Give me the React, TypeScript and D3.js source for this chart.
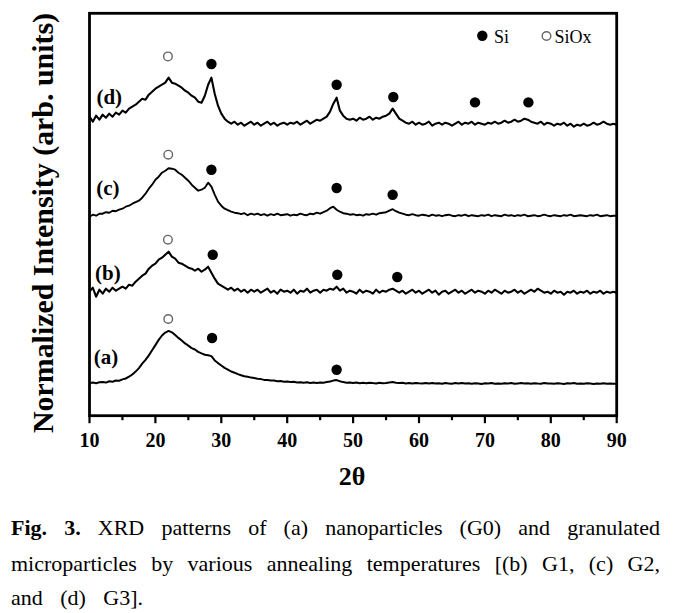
import React from "react";
import * as d3 from "d3";

// 2θ grid start and step for the intensity arrays (degrees)
const X_START = 10;
const X_STEP = 0.5;

// Normalized intensities (arb. units, stacked), 10°..90° every 0.5°
const curveA = [
  32.5, 33.2, 32.4, 33.5, 33.8, 33.1, 34.4, 34.0, 35.2, 35.0,
  36.3, 37.2, 39.0, 41.2, 44.1, 47.6, 52.0, 55.8, 60.3, 65.4,
  70.6, 75.8, 80.2, 83.1, 84.8, 83.4, 80.6, 77.8, 75.2, 72.3,
  70.1, 67.6, 66.2, 63.8, 62.3, 61.0, 60.4, 59.6, 55.3, 52.6,
  50.2, 47.8, 46.1, 44.2, 43.0, 41.6, 40.5, 39.4, 39.0, 38.1,
  37.6, 36.9, 36.6, 35.8, 35.6, 35.1, 35.2, 34.4, 34.6, 34.0,
  34.1, 33.6, 33.9, 33.2, 33.5, 32.9, 33.4, 32.8, 33.2, 32.7,
  33.1, 33.0, 33.6, 34.2, 35.1, 35.6, 34.4, 33.6, 33.0, 33.3,
  32.6, 33.1, 32.5, 32.9, 32.4, 33.0, 32.6, 32.3, 32.9, 32.5,
  32.8, 33.3, 33.6, 33.0, 32.6, 32.9, 32.3, 32.7, 32.2, 32.8,
  32.4, 32.1, 32.7, 32.3, 32.8, 32.2, 32.5, 31.9, 32.6, 32.3,
  32.0, 32.6, 32.2, 32.7, 32.1, 32.4, 32.0, 32.5, 32.2, 31.8,
  32.4, 32.1, 32.6, 32.0, 32.3, 31.9, 32.5, 32.2, 32.7, 32.0,
  32.3, 32.6, 32.1, 32.4, 31.9, 32.5, 32.2, 32.0, 32.6, 32.1,
  32.3, 32.0, 32.5, 32.1, 31.8, 32.4, 32.2, 32.6, 31.9, 32.3,
  32.0, 32.4, 32.1, 31.8, 32.3, 32.0, 32.5, 31.9, 32.2, 32.0,
  31.9,
];

const curveB = [
  124, 128, 119, 126, 122, 127, 124, 128, 125, 127,
  129, 127, 131, 130, 134, 137, 140, 142, 147, 150,
  152, 156, 158, 161, 164, 159, 157, 153, 152, 150,
  148, 147, 145, 147, 144, 146, 149, 143, 137, 132,
  130, 128, 126, 128, 125, 127, 124, 126, 123, 126,
  124, 126, 123, 125, 127, 123, 125, 122, 126, 124,
  125, 123, 126, 122, 125, 124, 127, 123, 125, 126,
  123, 126, 125, 127, 126, 129, 125, 127, 123, 125,
  124, 122, 126, 123, 125, 124, 122, 126, 123, 125,
  124, 126, 127, 125, 123, 125, 122, 124, 126, 123,
  125, 122, 124, 126, 123, 125, 121, 124, 125, 122,
  124, 126, 123, 125, 122, 124, 126, 123, 125, 124,
  122, 125, 123, 126, 124, 122, 125, 123, 124, 126,
  123, 125, 122, 124, 126, 124, 127, 125, 123, 124,
  122, 125, 123, 124, 121, 124, 123, 125, 122, 124,
  123, 125, 122, 124, 123, 125, 122, 124, 123, 124,
  123,
];

const curveC = [
  199, 201, 200, 202, 202, 203.5, 203, 205, 204.5, 206,
  207, 209, 210, 212, 213.5, 215, 218, 222, 227, 231,
  236, 239, 243, 245, 247.5, 247, 246, 243, 241, 238,
  235, 231, 228, 225, 226, 228, 233, 229, 221, 214,
  210, 207, 205.5, 204, 203, 202.5, 201.5, 202.5, 200.5, 202,
  201, 202, 200.5, 201.5, 200, 201.5, 200.5, 202, 200.5, 201,
  201.5, 200, 201, 200.5, 202, 201, 200.5, 202, 201.5, 203,
  202, 203.5, 205, 207.5, 209, 206, 204, 202.5, 202, 201,
  201.5, 200.5, 201, 200, 201.5, 201, 202, 201, 202.5, 203,
  203.5, 205, 206.5, 204.5, 203, 202, 201, 200.5, 201.5, 200.5,
  200, 201, 200.5, 199.5, 201, 200, 200.5, 199.5, 200.5, 201,
  200, 199.5, 200.5, 200, 201, 199.5, 200.5, 200, 199.5, 200.5,
  200, 201, 199.5, 200.5, 200, 199.5, 201, 200, 200.5, 199.5,
  200.5, 200, 201, 199.5, 200, 200.5, 199.5, 200, 201, 200,
  199.5, 200.5, 200, 199.5, 200.5, 200, 201, 199.5, 200, 200.5,
  200, 199.5, 200.5, 200, 201, 199.5, 200, 200.5, 199.5, 200,
  200,
];

const curveD = [
  299, 294, 300, 296, 301, 298, 302, 299, 303, 301,
  305, 303, 307, 309, 311, 314, 317, 316, 321, 324,
  327, 329, 331, 333, 338, 333, 332, 330, 328, 325,
  323, 320, 318, 314, 313, 320, 331, 338, 322, 310,
  302, 297, 294, 292, 294, 291, 293, 290, 292, 294,
  291, 293, 290, 292, 294, 291, 293, 290, 292, 293,
  291, 293, 292, 294, 291, 293, 295, 292, 294, 296,
  295, 297, 299, 304, 312, 318, 305, 300, 297, 296,
  297, 295, 298, 296, 297, 299, 296, 298, 297, 299,
  300, 302, 307, 302, 297, 295, 293, 292, 294, 291,
  293, 291, 292, 294, 290, 292, 293, 291, 293, 292,
  290, 292, 294, 291, 293, 292, 294, 291, 293, 292,
  291, 293, 292, 294, 292, 293, 295, 293, 294, 296,
  294, 295, 297, 296, 294, 293, 292, 294, 291, 293,
  292, 290, 292, 291, 293, 290, 292, 289, 291, 290,
  292, 290, 291, 293, 291, 292, 294, 292, 291, 292,
  291,
];

const seriesLabels = ["(a)", "(b)", "(c)", "(d)"];
const seriesData = [curveA, curveB, curveC, curveD];

// Peak markers [2θ, intensity]
const siPeaks: [number, number][] = [
  [28.6, 77.7], [47.5, 46],
  [28.7, 161], [47.6, 141], [56.7, 138.7],
  [28.5, 246], [47.5, 227.7], [56.0, 221],
  [28.5, 351.7], [47.5, 331], [56.1, 318.7], [68.5, 313.3], [76.6, 313.3],
];
const siOxPeaks: [number, number][] = [
  [21.95, 96.7], [21.9, 176], [21.95, 261], [21.9, 359.3],
];

const xMajorTicks = [10, 20, 30, 40, 50, 60, 70, 80, 90];
const xMinorTicks = [15, 25, 35, 45, 55, 65, 75, 85];

const yAxisTitle = "Normalized Intensity (arb. units)";
const xAxisTitle = "2θ";
const legendItems = ["Si", "SiOx"];

const captionLine1 = [
  { w: "Fig.", b: true }, { w: "3.", b: true }, { w: "XRD", b: false },
  { w: "patterns", b: false }, { w: "of", b: false }, { w: "(a)", b: false },
  { w: "nanoparticles", b: false }, { w: "(G0)", b: false }, { w: "and", b: false },
  { w: "granulated", b: false },
];
const captionLine2 = "microparticles by various annealing temperatures [(b) G1, (c) G2,";
const captionLine3 = "and (d) G3].";

const SERIF = "'Liberation Serif', 'Times New Roman', serif";

let ctx: CanvasRenderingContext2D | null = null;
function measure(text: string, font: string): number {
  if (!ctx) {
    const c = document.createElement("canvas");
    ctx = c.getContext("2d");
  }
  if (!ctx) return text.length * 10;
  ctx.font = font;
  return ctx.measureText(text).width;
}

function JustifiedLine({ words, x0, x1, y, size }: { words: { w: string; b: boolean }[]; x0: number; x1: number; y: number; size: number }) {
  const widths = words.map((d) =>
    measure(d.w, `${d.b ? "bold " : ""}${size}px 'Liberation Serif'`)
  );
  const total = d3.sum(widths);
  const gap = words.length > 1 ? (x1 - x0 - total) / (words.length - 1) : 0;
  let x = x0;
  return (
    <g>
      {words.map((d, i) => {
        const el = (
          <text
            key={i}
            x={x}
            y={y}
            fontFamily={SERIF}
            fontSize={size}
            fontWeight={d.b ? "bold" : "normal"}
            fill="#000"
          >
            {d.w}
          </text>
        );
        x += widths[i] + gap;
        return el;
      })}
    </g>
  );
}

export default function App() {
  const W = 678;
  const H = 613;
  const left = 89.5;
  const right = 616.7;
  const top = 13.3;
  const bottom = 415.7;

  const x = d3.scaleLinear().domain([10, 90]).range([left, right]);
  const y = d3.scaleLinear().domain([0, 402.4]).range([bottom, top]);

  const line = d3
    .line<number>()
    .x((_, i) => x(X_START + i * X_STEP))
    .y((v) => y(v));

  // label anchors in data units (2θ, intensity)
  const labelAnchors: [number, number][] = [
    [12.5, 59],
    [12.8, 143],
    [12.8, 228],
    [13.0, 319],
  ];
  const strokeWidths = [2.0, 2.1, 1.9, 2.1];

  return (
    <svg
      width={W}
      height={H}
      style={{ position: "absolute", left: 0, top: 0, display: "block", background: "#fff" }}
    >
      <rect x={0} y={0} width={W} height={H} fill="#fff" />

      {/* curves */}
      {seriesData.map((s, i) => (
        <path
          key={i}
          d={line(s) || ""}
          fill="none"
          stroke="#000"
          strokeWidth={strokeWidths[i]}
          strokeLinejoin="round"
        />
      ))}

      {/* markers */}
      {siPeaks.map((p, i) => (
        <circle key={"si" + i} cx={x(p[0])} cy={y(p[1])} r={5.2} fill="#000" />
      ))}
      {siOxPeaks.map((p, i) => (
        <circle
          key={"sx" + i}
          cx={x(p[0])}
          cy={y(p[1])}
          r={4.3}
          fill="#fff"
          stroke="#666"
          strokeWidth={1.4}
        />
      ))}

      {/* series labels */}
      {seriesLabels.map((l, i) => (
        <text
          key={l}
          x={x(labelAnchors[i][0])}
          y={y(labelAnchors[i][1])}
          dy="0.35em"
          textAnchor="middle"
          fontFamily={SERIF}
          fontWeight="bold"
          fontSize={21}
        >
          {l}
        </text>
      ))}

      {/* legend */}
      <circle cx={482.3} cy={35.8} r={5.2} fill="#000" />
      <text x={494} y={43} fontFamily={SERIF} fontSize={18}>
        {legendItems[0]}
      </text>
      <circle cx={546.5} cy={36} r={4.3} fill="#fff" stroke="#666" strokeWidth={1.4} />
      <text x={554.5} y={43} fontFamily={SERIF} fontSize={18}>
        {legendItems[1]}
      </text>

      {/* frame */}
      <rect
        x={left}
        y={top}
        width={right - left}
        height={bottom - top}
        fill="none"
        stroke="#000"
        strokeWidth={2.8}
      />

      {/* ticks */}
      {xMajorTicks.map((t) => (
        <line key={"M" + t} x1={x(t)} x2={x(t)} y1={bottom} y2={bottom + 7.5} stroke="#000" strokeWidth={2.2} />
      ))}
      {xMinorTicks.map((t) => (
        <line key={"m" + t} x1={x(t)} x2={x(t)} y1={bottom} y2={bottom + 4.5} stroke="#000" strokeWidth={2.2} />
      ))}
      {xMajorTicks.map((t) => (
        <text
          key={"L" + t}
          x={x(t)}
          y={447}
          textAnchor="middle"
          fontFamily={SERIF}
          fontWeight="bold"
          fontSize={20}
        >
          {d3.format("d")(t)}
        </text>
      ))}

      {/* axis titles */}
      <text
        x={x(50) - 1}
        y={485}
        textAnchor="middle"
        fontFamily={SERIF}
        fontWeight="bold"
        fontSize={26}
      >
        {xAxisTitle}
      </text>
      <text
        transform={`translate(53,223) rotate(-90)`}
        textAnchor="middle"
        fontFamily={SERIF}
        fontWeight="bold"
        fontSize={30}
        textLength={420}
        lengthAdjust="spacingAndGlyphs"
      >
        {yAxisTitle}
      </text>

      {/* caption */}
      <JustifiedLine words={captionLine1} x0={11} x1={660} y={535} size={22} />
      <JustifiedLine
        words={captionLine2.split(" ").map((w) => ({ w, b: false }))}
        x0={11}
        x1={660}
        y={571}
        size={22}
      />
      <JustifiedLine
        words={captionLine3.split(" ").map((w) => ({ w, b: false }))}
        x0={11}
        x1={143}
        y={605}
        size={22}
      />
    </svg>
  );
}
